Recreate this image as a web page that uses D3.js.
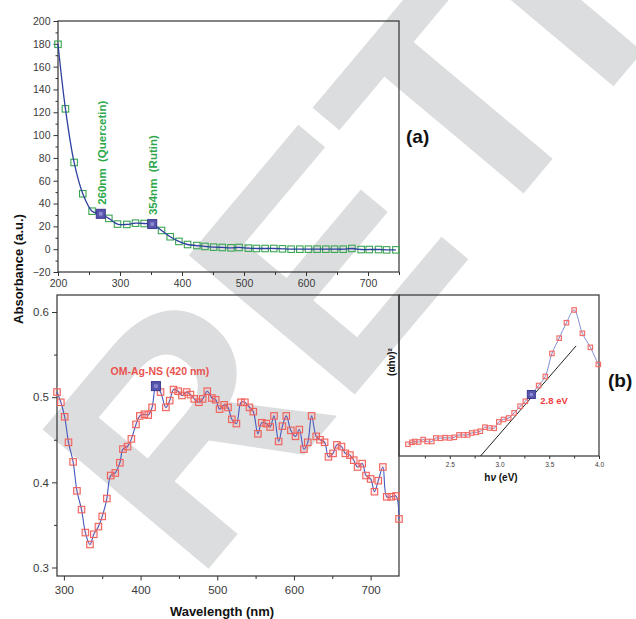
<!DOCTYPE html>
<html>
<head>
<meta charset="utf-8">
<script src="https://cdn.jsdelivr.net/npm/d3@7/dist/d3.min.js"></script>
<style>
body { margin: 0; background: #fff; }
text { font-family: "Liberation Sans", Arial, sans-serif; }
</style>
</head>
<body>
<div id="chart"></div>
<script>
// (a) plant extract absorbance
var waveA = [200, 212, 226, 240, 255, 269, 282, 296, 311, 325, 339, 352, 367, 381, 395, 409, 424, 437,
    451, 465, 479, 492, 507, 520, 534, 548, 562, 576, 590, 604, 618, 632, 646, 660, 674, 689, 702, 717, 730, 745];
var absA = [179.6, 123, 76, 48.6, 33.3, 31, 27, 22, 21.7, 22.8, 22.5, 22, 16.4, 10.9, 6.8, 4.1, 3.2, 2.4,
    1.8, 1.5, 1.2, 1.5, 0.9, 0.6, 0.6, 0.6, 0.3, 0, 0, 0, 0, 0, 0, 0, 0.6, -0.3, -0.3, -0.3, -0.6, -0.6];
var peaksA = [269, 352];
var peakLabelsA = ["260nm  (Quercetin)", "354nm  (Rutin)"];
var xTicksA = [200, 300, 400, 500, 600, 700];
var yTicksA = [-20, 0, 20, 40, 60, 80, 100, 120, 140, 160, 180, 200];

// OM-Ag-NS absorbance
var waveB = [291, 296, 301, 306, 312, 317, 323, 328, 334, 339, 345, 350, 356, 361, 367, 373, 377, 383, 388, 394,
    399, 405, 410, 415, 420, 426, 433, 438, 443, 449, 454, 460, 465, 470, 476, 481, 487, 493, 498, 503,
    509, 514, 519, 525, 531, 536, 542, 547, 553, 558, 564, 569, 574, 580, 585, 590, 596, 602, 607, 613,
    618, 623, 629, 634, 640, 645, 651, 656, 662, 667, 673, 678, 683, 689, 694, 700, 705, 710, 716, 721,
    727, 733, 737];
var absB = [0.506, 0.494, 0.477, 0.447, 0.424, 0.390, 0.368, 0.341, 0.327, 0.339, 0.348, 0.360, 0.381, 0.408, 0.411, 0.423, 0.439, 0.442, 0.451, 0.468,
    0.478, 0.480, 0.479, 0.488, 0.513, 0.506, 0.488, 0.496, 0.509, 0.507, 0.502, 0.506, 0.503, 0.498, 0.494, 0.498, 0.507, 0.499, 0.497, 0.486,
    0.491, 0.488, 0.474, 0.469, 0.494, 0.494, 0.488, 0.483, 0.457, 0.470, 0.469, 0.465, 0.478, 0.448, 0.466, 0.478, 0.461, 0.454, 0.462, 0.439,
    0.447, 0.478, 0.454, 0.450, 0.447, 0.430, 0.434, 0.444, 0.442, 0.434, 0.432, 0.426, 0.418, 0.422, 0.408, 0.404, 0.389, 0.402, 0.418, 0.383,
    0.383, 0.384, 0.357];
var peakB = 420;
var xTicksB = [300, 400, 500, 600, 700];
var yTicksB = [0.3, 0.4, 0.5, 0.6];

// (b) Tauc plot inset
var energyC = [2.08, 2.12, 2.147, 2.187, 2.233, 2.273, 2.32, 2.36, 2.407, 2.453, 2.50, 2.547, 2.593, 2.64, 2.68,
    2.72, 2.767, 2.807, 2.853, 2.90, 2.947, 2.993, 3.04, 3.093, 3.147, 3.207, 3.26, 3.32, 3.393, 3.46,
    3.527, 3.60, 3.673, 3.75, 3.833, 3.913, 3.993];
var taucC = [7.3, 8.5, 9.0, 8.7, 10.2, 9.0, 9.0, 11.2, 11.0, 11.4, 11.2, 11.6, 13.1, 13.1, 13.1,
    14.3, 14.7, 15.4, 17.9, 17.4, 17.2, 21.2, 22.7, 23.6, 26.8, 30.9, 34.0, 38.2, 43.8, 49.4,
    63.7, 73.2, 82.8, 90.7, 76.2, 67.5, 56.9];
var gapEnergy = 3.32;
var tangentE = [2.81, 3.77];
var tangentV = [0, 68.4];
var xTicksC = [2.5, 3.0, 3.5, 4.0];
var xMinorC = [2.25, 2.75, 3.25, 3.75];

var width = 636, height = 619;
var svg = d3.select("#chart").append("svg").attr("width", width).attr("height", height);

// retraction watermark, behind everything
svg.append("text")
    .attr("transform", "translate(195,585) rotate(-50)")
    .style("font-family", "'Liberation Sans', Arial, sans-serif")
    .style("font-weight", "bold")
    .style("font-size", "315px")
    .style("fill", "#dcdddf")
    .text("RETRACTED");

function styleAxis(g, size) {
    g.select(".domain").remove();
    g.selectAll(".tick line").attr("stroke", "#333");
    g.selectAll(".tick text").style("font-size", size).style("fill", "#3a3a3a");
}

function drawMarkers(g, xs, ys, x, y, w, stroke, fill) {
    g.selectAll(null).data(xs).enter().append("rect")
        .attr("x", function(d) { return x(d) - w / 2; })
        .attr("y", function(d, i) { return y(ys[i]) - w / 2; })
        .attr("width", w).attr("height", w)
        .attr("fill", fill).attr("stroke", stroke).attr("stroke-width", 1.1);
}

function bigSquare(g, cx, cy, s) {
    g.append("rect").attr("x", cx - s / 2).attr("y", cy - s / 2).attr("width", s).attr("height", s)
        .attr("fill", "#5855ad").attr("stroke", "#3b3890").attr("stroke-width", 1);
    g.append("rect").attr("x", cx - s / 5).attr("y", cy - s / 5).attr("width", s * 0.4).attr("height", s * 0.4)
        .attr("fill", "#8d8bd0");
}

/* ---------- panel (a) ---------- */
var xA = d3.scaleLinear().domain([200, 750]).range([58, 399]);
var yA = d3.scaleLinear().domain([-20, 200]).range([272, 21]);
var gA = svg.append("g");

gA.append("g").attr("transform", "translate(0,272)")
    .call(d3.axisBottom(xA).tickValues([250, 350, 450, 550, 650, 750]).tickSize(3).tickFormat(""))
    .call(styleAxis, "10.5px");
gA.append("g").attr("transform", "translate(0,272)")
    .call(d3.axisBottom(xA).tickValues(xTicksA).tickSize(4).tickPadding(4).tickFormat(d3.format("d")))
    .call(styleAxis, "10.5px");
gA.append("g").attr("transform", "translate(58,0)")
    .call(d3.axisLeft(yA).tickValues(d3.range(-10, 200, 20)).tickSize(2.5).tickFormat(""))
    .call(styleAxis, "10.5px");
gA.append("g").attr("transform", "translate(58,0)")
    .call(d3.axisLeft(yA).tickValues(yTicksA).tickSize(4.5).tickPadding(3).tickFormat(d3.format("d")))
    .call(styleAxis, "10.5px");

gA.append("rect").attr("x", 58).attr("y", 21).attr("width", 341).attr("height", 251)
    .attr("fill", "none").attr("stroke", "#333").attr("stroke-width", 1.2);

var lineA = d3.line().x(function(d) { return xA(d); })
    .y(function(d, i) { return yA(absA[i]); })
    .curve(d3.curveCatmullRom.alpha(0.5));
drawMarkers(gA, waveA, absA, xA, yA, 6.5, "#3aa551", "none");
gA.append("path").datum(waveA).attr("d", lineA)
    .attr("fill", "none").attr("stroke", "#2d3f9f").attr("stroke-width", 1.3);

peaksA.forEach(function(p, k) {
    var i = waveA.indexOf(p);
    bigSquare(gA, xA(p), yA(absA[i]), 9);
    gA.append("text")
        .attr("transform", "translate(" + (xA(p) + 5) + "," + (yA(absA[i]) - 9) + ") rotate(-90)")
        .style("font-size", "11.5px").style("font-weight", "bold").style("fill", "#2fa84c")
        .attr("xml:space", "preserve")
        .text(peakLabelsA[k]);
});

svg.append("text").attr("x", 406).attr("y", 143)
    .style("font-size", "19px").style("font-weight", "bold").style("fill", "#111").text("(a)");

/* ---------- bottom panel ---------- */
var xB = d3.scaleLinear().domain([291, 737]).range([57, 399]);
var yB = d3.scaleLinear().domain([0.29, 0.62]).range([576, 295]);
var gB = svg.append("g");

gB.append("g").attr("transform", "translate(0,576)")
    .call(d3.axisBottom(xB).tickValues([350, 450, 550, 650]).tickSize(3).tickFormat(""))
    .call(styleAxis, "11px");
gB.append("g").attr("transform", "translate(0,576)")
    .call(d3.axisBottom(xB).tickValues(xTicksB).tickSize(4.5).tickPadding(5).tickFormat(d3.format("d")))
    .call(styleAxis, "11.5px");
gB.append("g").attr("transform", "translate(57,0)")
    .call(d3.axisLeft(yB).tickValues([0.35, 0.45, 0.55]).tickSize(3).tickFormat(""))
    .call(styleAxis, "11px");
gB.append("g").attr("transform", "translate(57,0)")
    .call(d3.axisLeft(yB).tickValues(yTicksB).tickSize(5).tickPadding(3).tickFormat(d3.format(".1f")))
    .call(styleAxis, "11.5px");

gB.append("rect").attr("x", 57).attr("y", 295).attr("width", 342).attr("height", 281)
    .attr("fill", "none").attr("stroke", "#333").attr("stroke-width", 1.2);

var lineB = d3.line().x(function(d) { return xB(d); })
    .y(function(d, i) { return yB(absB[i]); })
    .curve(d3.curveCatmullRom.alpha(0.5));
gB.append("path").datum(waveB).attr("d", lineB)
    .attr("fill", "none").attr("stroke", "#4458bd").attr("stroke-width", 1.1);
drawMarkers(gB, waveB, absB, xB, yB, 6.5, "#f0605a", "rgba(240,110,110,0.12)");
bigSquare(gB, xB(peakB), yB(absB[waveB.indexOf(peakB)]), 9);
gB.append("text").attr("x", xB(peakB) + 4).attr("y", 375).attr("text-anchor", "middle")
    .style("font-size", "10.5px").style("font-weight", "bold").style("fill", "#e95450")
    .text("OM-Ag-NS (420 nm)");

svg.append("text").attr("transform", "translate(23,269) rotate(-90)").attr("text-anchor", "middle")
    .style("font-size", "13px").style("font-weight", "bold").style("fill", "#111")
    .text("Absorbance (a.u.)");
svg.append("text").attr("x", 222).attr("y", 616).attr("text-anchor", "middle")
    .style("font-size", "13px").style("font-weight", "bold").style("fill", "#111")
    .text("Wavelength (nm)");

/* ---------- inset (b) ---------- */
var xC = d3.scaleLinear().domain([1.99, 4.0]).range([399, 599]);
var yC = d3.scaleLinear().domain([0, 100]).range([456, 295]);
var gC = svg.append("g");

gC.append("g").attr("transform", "translate(0,456)")
    .call(d3.axisBottom(xC).tickValues(xMinorC).tickSize(2.5).tickFormat(""))
    .call(styleAxis, "6px");
gC.append("g").attr("transform", "translate(0,456)")
    .call(d3.axisBottom(xC).tickValues(xTicksC).tickSize(3).tickPadding(3).tickFormat(d3.format(".1f")))
    .call(styleAxis, "6.5px");

gC.append("rect").attr("x", 399).attr("y", 295).attr("width", 200).attr("height", 161)
    .attr("fill", "none").attr("stroke", "#333").attr("stroke-width", 1.2);

gC.append("line")
    .attr("x1", xC(tangentE[0])).attr("y1", yC(tangentV[0]))
    .attr("x2", xC(tangentE[1])).attr("y2", yC(tangentV[1]))
    .attr("stroke", "#222").attr("stroke-width", 1);

var lineC = d3.line().x(function(d) { return xC(d); })
    .y(function(d, i) { return yC(taucC[i]); })
    .curve(d3.curveCatmullRom.alpha(0.5));
gC.append("path").datum(energyC).attr("d", lineC)
    .attr("fill", "none").attr("stroke", "#7f8fd8").attr("stroke-width", 1);
drawMarkers(gC, energyC, taucC, xC, yC, 4.5, "#f06b66", "rgba(240,110,110,0.12)");
bigSquare(gC, xC(gapEnergy), yC(taucC[energyC.indexOf(gapEnergy)]), 8);
gC.append("text").attr("x", xC(gapEnergy) + 9).attr("y", 404)
    .style("font-size", "9.5px").style("font-weight", "bold").style("fill", "#ee4040")
    .text("2.8 eV");

var hv = svg.append("text").attr("x", 501).attr("y", 481).attr("text-anchor", "middle")
    .style("font-size", "10px").style("font-weight", "bold").style("fill", "#111");
hv.append("tspan").text("h");
hv.append("tspan").style("font-style", "italic").text("ν");
hv.append("tspan").text(" (eV)");

svg.append("text").attr("transform", "translate(395,362) rotate(-90)").attr("text-anchor", "middle")
    .style("font-size", "10px").style("font-weight", "bold").style("fill", "#111")
    .text("(αhν)²");

svg.append("text").attr("x", 608).attr("y", 387)
    .style("font-size", "19px").style("font-weight", "bold").style("fill", "#111").text("(b)");
</script>
</body>
</html>
